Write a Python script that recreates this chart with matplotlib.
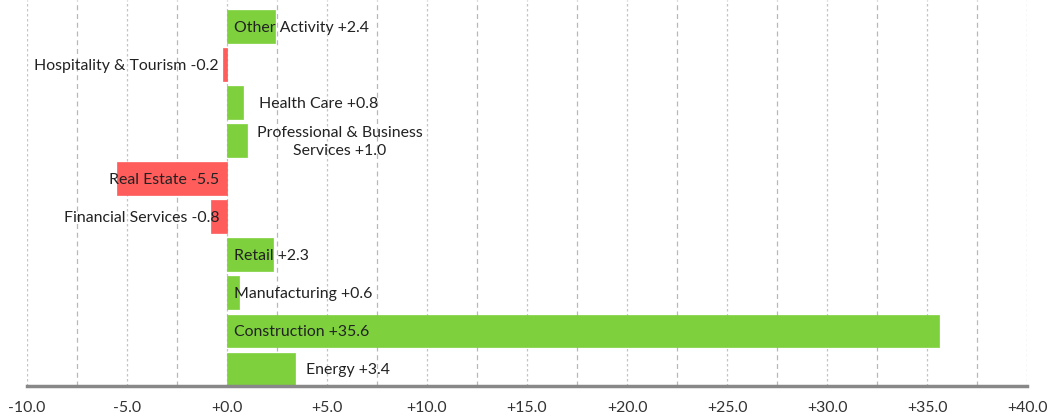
import numpy as np
import matplotlib.pyplot as plt
from matplotlib.ticker import MultipleLocator, FuncFormatter

categories = ["Other Activity", "Hospitality & Tourism", "Health Care",
              "Professional & Business\nServices", "Real Estate", "Financial Services",
              "Retail", "Manufacturing", "Construction", "Energy"]
values = [2.4, -0.2, 0.8, 1.0, -5.5, -0.8, 2.3, 0.6, 35.6, 3.4]
# label placed after the bar end (True) or from the zero line (False), pixel offset
label_at_end = [False, False, True, True, False, False, False, False, False, True]
label_pad = [7, -8, 16, 10, -8, -8, 7, 7, 7, 11]

plt.rcParams['font.family'] = ['Lato', 'DejaVu Sans']

fig = plt.figure(figsize=(10.54, 4.19), dpi=100)
ax = fig.add_axes([27/1054, 33/419, 1000/1054, 386/419])

green = "#7ed13c"
red = "#ff5c5c"
y = np.arange(len(values))
colors = [green if v >= 0 else red for v in values]
ax.barh(y, values, height=0.86, color=colors, edgecolor=colors, linewidth=0.5, zorder=2)

for i, (cat, v) in enumerate(zip(categories, values)):
    txt = f"{cat} {v:+.1f}"
    x0 = v if label_at_end[i] else 0
    ha = "left" if label_pad[i] > 0 else "right"
    ax.annotate(txt, (x0, i), xytext=(label_pad[i], -1), textcoords="offset pixels",
                ha=ha, va="center", multialignment="center", linespacing=1.35,
                fontsize=11.4, color="#222222", zorder=3)

ax.set_xlim(-10, 40)
ax.set_ylim(len(values) - 0.55, -0.7)
ax.xaxis.set_major_locator(MultipleLocator(5))
ax.xaxis.set_minor_locator(MultipleLocator(2.5))
ax.xaxis.set_major_formatter(FuncFormatter(lambda v, p: f"{v:+.1f}" if v != 0 else "+0.0"))
ax.grid(axis="x", which="major", linestyle=(0, (2, 2)), color="#c4c4c4", linewidth=0.9, zorder=0)
ax.grid(axis="x", which="minor", linestyle=(0, (4, 3)), color="#b8b8b8", linewidth=0.9, zorder=0)
ax.set_yticks([])
ax.tick_params(axis="x", which="both", length=0, pad=11, labelsize=11.4, labelcolor="#333333")
for s in ["top", "right", "left"]:
    ax.spines[s].set_visible(False)
ax.spines["bottom"].set_color("#888888")
ax.spines["bottom"].set_linewidth(2.5)

fig.savefig("out.png", dpi=100)
